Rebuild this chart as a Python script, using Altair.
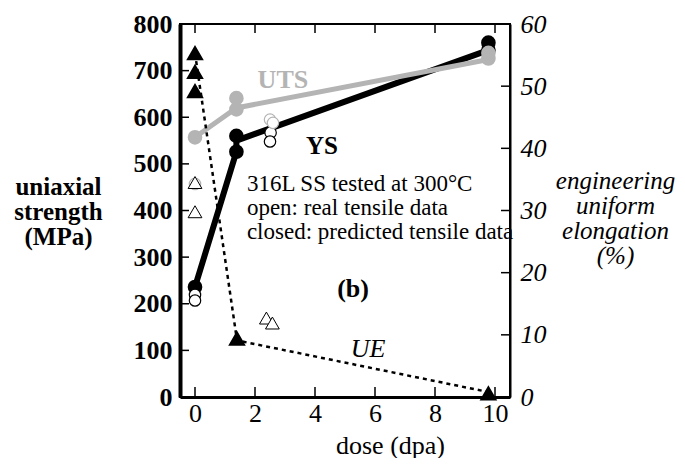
import altair as alt
import pandas as pd

FONT = "Liberation Serif"
GRAY = "#b4b4b4"
W, H = 330, 373

# ---- data ----
# yield strength, predicted (closed circles)
ys_closed_dose = [0, 1.38, 1.38, 9.78, 9.78]
ys_closed_mpa = [236, 526, 560, 760, 744]
ys_line_dose = [0, 1.38, 1.38, 9.78]
ys_line_mpa = [236, 526, 550, 744]
# yield strength, real (open circles)
ys_open_dose = [0, 0, 2.52, 2.5]
ys_open_mpa = [219, 207, 567, 548]

# ultimate tensile strength, predicted (closed gray)
uts_closed_dose = [0, 1.38, 1.38, 9.78, 9.78]
uts_closed_mpa = [557, 617, 641, 738, 726]
uts_line_dose = [0, 1.38, 9.78]
uts_line_mpa = [557, 620, 724]
# UTS real (open gray)
uts_open_dose = [0, 2.5, 2.6]
uts_open_mpa = [457, 595, 588]

# uniform elongation (%), predicted (closed triangles)
ue_closed_dose = [0, 0, 0, 1.4, 9.78]
ue_closed_pct = [55.3, 52.3, 49.2, 9.4, 0.6]
ue_line_dose = [0, 1.4, 9.78]
ue_line_pct = [55.3, 9.1, 0.8]
# UE real (open triangles)
ue_open_dose = [0, 0, 2.38, 2.58]
ue_open_pct = [34.5, 29.8, 12.7, 11.9]

# axes
x_tick_values = [0, 2, 4, 6, 8, 10]
left_tick_values = [0, 100, 200, 300, 400, 500, 600, 700, 800]
right_tick_values = [0, 10, 20, 30, 40, 50, 60]

# annotations
info_lines = ["316L SS tested at 300°C", "open: real tensile data", "closed: predicted tensile data"]
info_dose = [1.73, 1.73, 1.73]
info_mpa = [456, 405, 354]

x_scale = alt.Scale(domain=[-0.5, 10.5], nice=False, zero=False)
yl_scale = alt.Scale(domain=[0, 800], nice=False, zero=False)
yr_scale = alt.Scale(domain=[0, 60], nice=False, zero=False)

x_axis = alt.Axis(
    values=x_tick_values, title="dose (dpa)", labelFont=FONT, labelFontSize=26,
    labelColor="black", labelPadding=3, ticks=False, domainWidth=3, domainColor="black",
    grid=False, labelFlush=False, labelOverlap=False, labelBound=False,
    titleFont=FONT, titleFontSize=26, titleFontWeight="normal", titleColor="black",
    titleX=210, titleY=48, titleBaseline="middle", titleAlign="center",
)
left_axis = alt.Axis(
    values=left_tick_values, title=["uniaxial", "strength", "(MPa)"],
    labelFont=FONT, labelFontSize=26, labelFontWeight="bold", labelColor="black",
    labelPadding=8, ticks=False, domainWidth=4, domainColor="black", grid=False,
    labelFlush=False, labelOverlap=False, labelBound=False,
    titleFont=FONT, titleFontSize=25, titleFontWeight="bold", titleColor="black",
    titleAngle=0, titleX=-122, titleY=162, titleAlign="center", titleBaseline="middle",
    titleLineHeight=25,
)
right_axis = alt.Axis(
    orient="right", values=right_tick_values,
    title=["engineering", "uniform", "elongation", "(%)"],
    labelFont=FONT, labelFontSize=26, labelFontStyle="italic", labelColor="black",
    labelPadding=10, ticks=False, domainWidth=2, domainColor="black", grid=False,
    labelFlush=False, labelOverlap=False, labelBound=False,
    titleFont=FONT, titleFontSize=25, titleFontStyle="italic", titleFontWeight="normal",
    titleColor="black", titleAngle=0, titleX=105, titleY=156, titleAlign="center",
    titleBaseline="middle", titleLineHeight=25,
)


def df(**cols):
    d = pd.DataFrame(cols)
    d["i"] = range(len(d))
    return d


# the same axis object on every layer, so the shared axes merge cleanly
def xe():
    return alt.X("dose:Q", scale=x_scale, axis=x_axis)


def yl():
    return alt.Y("mpa:Q", scale=yl_scale, axis=left_axis)


def yr():
    return alt.Y("pct:Q", scale=yr_scale, axis=right_axis)


# ---- left (MPa) group ----
ys_line = alt.Chart(df(dose=ys_line_dose, mpa=ys_line_mpa)).mark_line(
    color="black", strokeWidth=6
).encode(x=xe(), y=yl(), order="i:Q")

ys_pts = alt.Chart(df(dose=ys_closed_dose, mpa=ys_closed_mpa)).mark_point(
    shape="circle", filled=True, fill="black", stroke="black", size=160, opacity=1
).encode(x=xe(), y=yl())

ys_open = alt.Chart(df(dose=ys_open_dose, mpa=ys_open_mpa)).mark_point(
    shape="circle", filled=True, fill="white", stroke="black", strokeWidth=1.2,
    size=130, opacity=1
).encode(x=xe(), y=yl())

uts_line = alt.Chart(df(dose=uts_line_dose, mpa=uts_line_mpa)).mark_line(
    color=GRAY, strokeWidth=5
).encode(x=xe(), y=yl(), order="i:Q")

uts_pts = alt.Chart(df(dose=uts_closed_dose, mpa=uts_closed_mpa)).mark_point(
    shape="circle", filled=True, fill=GRAY, stroke=GRAY, size=160, opacity=1
).encode(x=xe(), y=yl())

uts_open = alt.Chart(df(dose=uts_open_dose, mpa=uts_open_mpa)).mark_point(
    shape="circle", filled=True, fill="white", stroke=GRAY, strokeWidth=1.2,
    size=130, opacity=1
).encode(x=xe(), y=yl())

uts_label = alt.Chart(df(dose=[2.93], mpa=[680], t=["UTS"])).mark_text(
    font=FONT, fontSize=26, fontWeight="bold", color=GRAY
).encode(x=xe(), y=yl(), text="t:N")

ys_label = alt.Chart(df(dose=[4.23], mpa=[538], t=["YS"])).mark_text(
    font=FONT, fontSize=25, fontWeight="bold", color="black"
).encode(x=xe(), y=yl(), text="t:N")

info = alt.Chart(df(dose=info_dose, mpa=info_mpa, t=info_lines)).mark_text(
    font=FONT, fontSize=23, color="black", align="left", baseline="middle"
).encode(x=xe(), y=yl(), text="t:N")

b_label = alt.Chart(df(dose=[5.27], mpa=[232], t=["(b)"])).mark_text(
    font=FONT, fontSize=26, fontWeight="bold", color="black"
).encode(x=xe(), y=yl(), text="t:N")

left_ticks = alt.Chart(pd.DataFrame({"mpa": left_tick_values})).mark_rule(
    color="black", strokeWidth=1.5
).encode(x=alt.value(0), x2=alt.value(9), y=yl())

top_ticks = alt.Chart(pd.DataFrame({"dose": x_tick_values})).mark_rule(
    color="black", strokeWidth=1.5
).encode(x=xe(), y=alt.value(0), y2=alt.value(9))

bottom_ticks = alt.Chart(pd.DataFrame({"dose": x_tick_values})).mark_rule(
    color="black", strokeWidth=1.5
).encode(x=xe(), y=alt.value(H), y2=alt.value(H - 10))

left_group = alt.layer(
    ys_line, left_ticks, top_ticks, bottom_ticks, ys_pts, ys_open,
    uts_line, uts_open, uts_pts, uts_label, ys_label, info, b_label,
)

# ---- right (%) group ----
ue_line = alt.Chart(df(dose=ue_line_dose, pct=ue_line_pct)).mark_line(
    color="black", strokeWidth=2.5, strokeDash=[4, 4]
).encode(x=xe(), y=yr(), order="i:Q")

ue_pts = alt.Chart(df(dose=ue_closed_dose, pct=ue_closed_pct)).mark_point(
    shape="triangle-up", filled=True, fill="black", stroke="black", size=200, opacity=1
).encode(x=xe(), y=yr())

ue_open = alt.Chart(df(dose=ue_open_dose, pct=ue_open_pct)).mark_point(
    shape="triangle-up", filled=True, fill="white", stroke="black", strokeWidth=1,
    size=190, opacity=1
).encode(x=xe(), y=yr())

ue_label = alt.Chart(df(dose=[5.77], pct=[7.7], t=["UE"])).mark_text(
    font=FONT, fontSize=26, fontStyle="italic", color="black"
).encode(x=xe(), y=yr(), text="t:N")

right_ticks = alt.Chart(pd.DataFrame({"pct": right_tick_values})).mark_rule(
    color="black", strokeWidth=1.5
).encode(x=alt.value(W), x2=alt.value(W - 9), y=yr())

right_group = alt.layer(ue_line, right_ticks, ue_open, ue_pts, ue_label)

chart = (
    alt.layer(left_group, right_group)
    .resolve_scale(y="independent")
    .properties(
        width=W, height=H,
        autosize=alt.AutoSizeParams(type="none"),
        padding={"left": 172, "top": 16, "right": 167, "bottom": 61},
        background="white",
    )
    .configure_view(stroke="black", strokeWidth=2)
)

chart.save("out.html", embed_options={"renderer": "svg", "actions": False})
